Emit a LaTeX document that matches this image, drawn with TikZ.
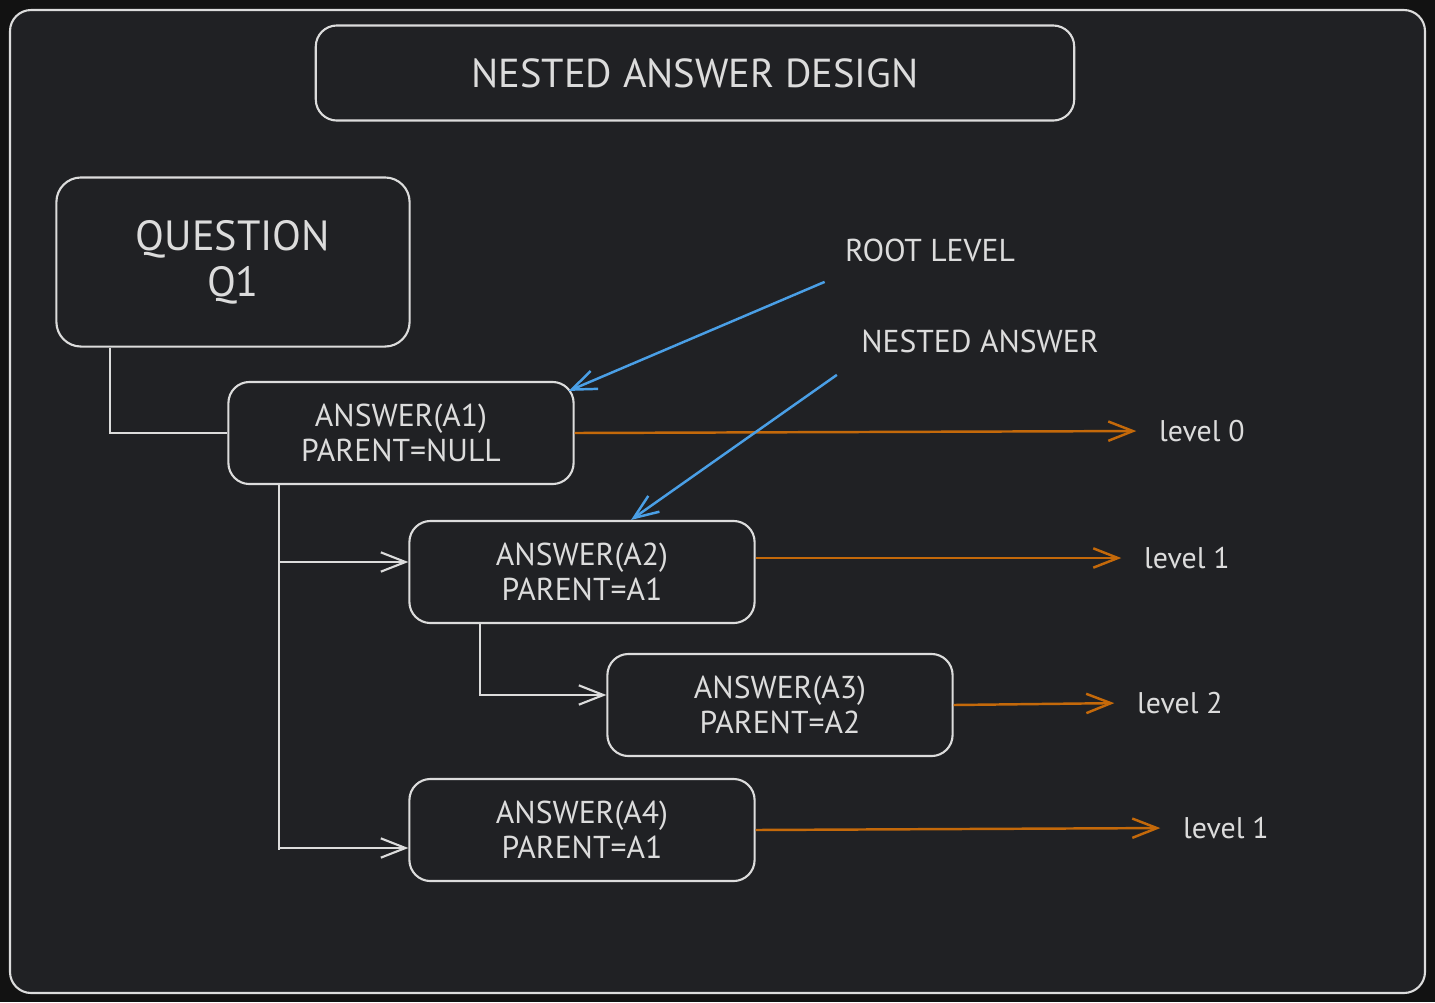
\documentclass[tikz,border=0pt]{standalone}
\usepackage{fontspec}
\setmainfont{PT Sans}
\usepackage{tikz}
\usetikzlibrary{arrows.meta,positioning,calc}
\definecolor{canvas}{HTML}{121212}
\definecolor{panel}{HTML}{202124}
\definecolor{chalk}{HTML}{DCDCDC}
\definecolor{skyline}{HTML}{4A9FE6}
\definecolor{rust}{HTML}{C4690A}

\begin{document}
\begin{tikzpicture}[x=0.01cm,y=-0.01cm]
\tikzstyle{frame}=[draw=chalk,line width=0.6pt,rounded corners=6pt]
\tikzstyle{ansbox}=[frame,text=chalk,align=center,minimum width=3.45cm,minimum height=1.02cm,font=\fontsize{9}{10}\selectfont]
\tikzstyle{note}=[text=chalk,font=\fontsize{9}{10}\selectfont]
\tikzstyle{lvltext}=[text=chalk,font=\fontsize{8.5}{10}\selectfont]
\tikzstyle{link}=[draw=chalk,line width=0.6pt,>={Straight Barb[length=7pt,width=5.5pt]}]
\tikzstyle{lvl}=[draw=rust,line width=0.7pt,->,>={Straight Barb[length=7pt,width=5.5pt]},shorten >=3pt]
\tikzstyle{hint}=[draw=skyline,line width=0.7pt,->,>={Straight Barb[length=7pt,width=5.5pt]}]

\fill[canvas] (0,0) rectangle (1435,1002);
\draw[frame,fill=panel] (10,10) rectangle (1425,993);

\node[frame,minimum width=7.58cm,minimum height=0.95cm,text=chalk,font=\fontsize{11.5}{13}\selectfont] (title) at (695,73) {NESTED ANSWER DESIGN};

\node[frame,rounded corners=7pt,minimum width=3.53cm,minimum height=1.69cm,text=chalk,align=center,font=\fontsize{12}{13}\selectfont] (q1) at (233,262) {QUESTION\\Q1};

\node[ansbox] (a1) at (401,433) {ANSWER(A1)\\PARENT=NULL};
\node[ansbox] (a2) at (582,572) {ANSWER(A2)\\PARENT=A1};
\node[ansbox] (a3) at (780,705) {ANSWER(A3)\\PARENT=A2};
\node[ansbox] (a4) at (582,830) {ANSWER(A4)\\PARENT=A1};

\node[note] (root) at (930,250) {ROOT LEVEL};
\node[note] (nested) at (980,341) {NESTED ANSWER};

\node[lvltext] (lvl0) at (1202,431) {level 0};
\node[lvltext] (lvl1a) at (1187,558) {level 1};
\node[lvltext] (lvl2) at (1180,703) {level 2};
\node[lvltext] (lvl1b) at (1226,828) {level 1};

\draw[link] ($(q1.south west)+(55,0)$) |- (a1.west);
\coordinate (trunk) at ($(a1.south west)+(52,0)$);
\draw[link] (trunk) -- ($(trunk |- a4.west)+(0,20)$);
\draw[link,->] ($(trunk |- a2.west)+(0,-10)$) -- ($(a2.west)+(0,-10)$);
\draw[link,->] ($(trunk |- a4.west)+(0,18)$) -- ($(a4.west)+(0,18)$);
\draw[link,->] ($(a2.south west)+(72,0)$) |- ($(a3.west)+(0,-10)$);

\draw[lvl] (a1.east) -- (lvl0.west);
\draw[lvl] (a2.east |- lvl1a.west) -- (lvl1a.west);
\draw[lvl] (a3.east) -- (lvl2.west);
\draw[lvl] (a4.east) -- (lvl1b.west);

\draw[hint] ($(root.south west)+(-8,8)$) -- ($(a1.north east)+(-6,10)$);
\draw[hint] ($(nested.south west)+(-12,10)$) -- ($(a2.north)+(49,0)$);
\end{tikzpicture}
\end{document}
